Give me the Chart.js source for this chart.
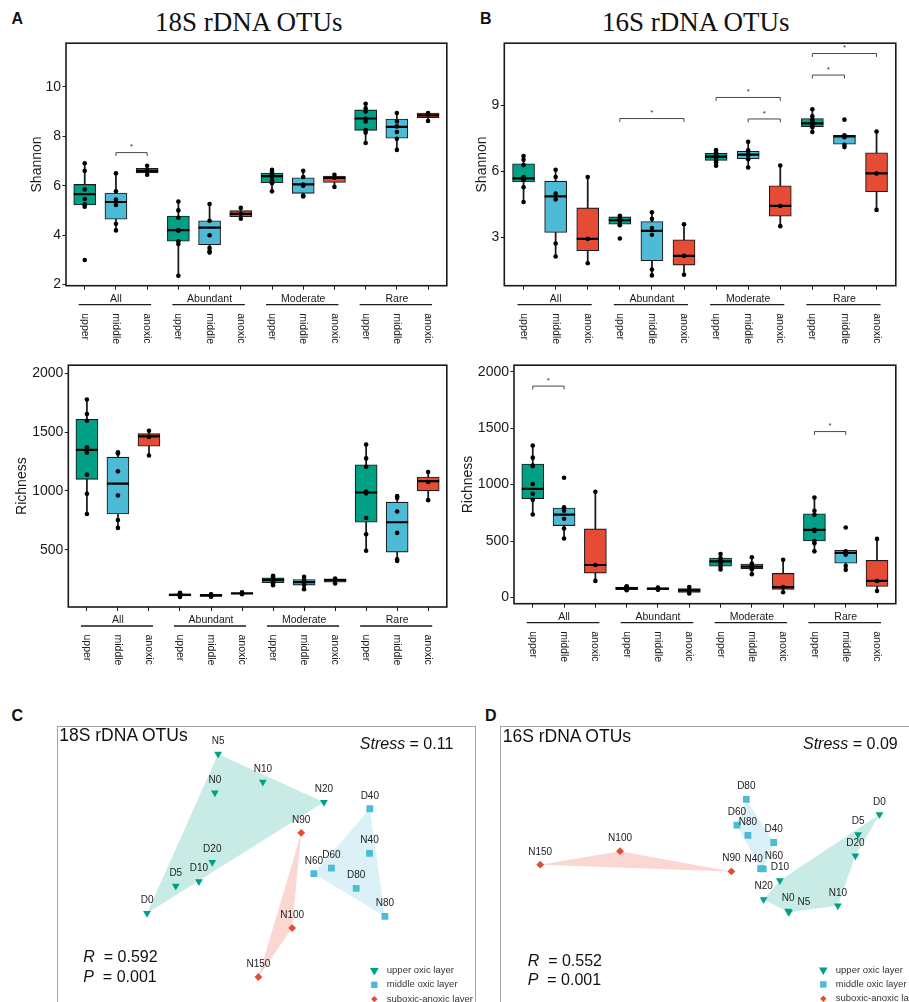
<!DOCTYPE html>
<html>
<head>
<meta charset="utf-8">
<title>Alpha diversity and NMDS of 18S / 16S rDNA OTUs</title>
<script src="https://cdn.jsdelivr.net/npm/chart.js@4.4.1/dist/chart.umd.min.js"></script>
<style>
  html, body { margin: 0; padding: 0; background: #fff; }
  body { position: relative; width: 909px; height: 1002px; overflow: hidden;
         font-family: "Liberation Sans", Arial, sans-serif; color: #111; }
  canvas, .t, .frame { position: absolute; }
  .t { white-space: nowrap; line-height: 1; }
  .letter { font-weight: bold; font-size: 16px; }
  .title { font-family: "Liberation Serif", "Times New Roman", serif; font-size: 27px; width: 300px; text-align: center; }
  .frame { border: 1.5px solid #a3a3a3; border-bottom: none; box-sizing: border-box; height: 300px; }
</style>
</head>
<body>

<div class="t letter" style="left:11.5px; top:10.5px;">A</div>
<div class="t letter" style="left:480px; top:10.5px;">B</div>
<div class="t title" style="left:98.8px; top:9px;">18S rDNA OTUs</div>
<div class="t title" style="left:545.7px; top:9px;">16S rDNA OTUs</div>

<canvas id="shannon18" width="460" height="320" style="left:0; top:30px;"></canvas>
<canvas id="shannon16" width="454" height="320" style="left:455px; top:30px;"></canvas>
<canvas id="richness18" width="460" height="318" style="left:0; top:352px;"></canvas>
<canvas id="richness16" width="454" height="318" style="left:455px; top:352px;"></canvas>

<div class="t letter" style="left:11.5px; top:708px;">C</div>
<div class="t letter" style="left:485px; top:707.5px;">D</div>
<div class="frame" style="left:56.5px; top:726px; width:419px;"></div>
<div class="frame" style="left:500px; top:726px; width:430px;"></div>
<canvas id="nmds18" width="418" height="275" style="left:57px; top:727px;"></canvas>
<canvas id="nmds16" width="408" height="275" style="left:501px; top:727px;"></canvas>

<div class="t" style="left:59.3px; top:727px; font-size:17.5px;">18S rDNA OTUs</div>
<div class="t" style="right:455.7px; top:735.8px; font-size:16px;"><i>Stress</i> = 0.11</div>
<div class="t" style="left:83.3px; top:949.2px; font-size:16px;"><i>R</i>&nbsp;&nbsp;= 0.592</div>
<div class="t" style="left:83.3px; top:968.5px; font-size:16px;"><i>P</i>&nbsp;&nbsp;= 0.001</div>
<div class="t" style="left:502.7px; top:727.7px; font-size:17.5px;">16S rDNA OTUs</div>
<div class="t" style="right:11.3px; top:735.8px; font-size:16px;"><i>Stress</i> = 0.09</div>
<div class="t" style="left:527.7px; top:952.5px; font-size:16px;"><i>R</i>&nbsp;&nbsp;= 0.552</div>
<div class="t" style="left:527.7px; top:971.5px; font-size:16px;"><i>P</i>&nbsp;&nbsp;= 0.001</div>

<script>
// categories
const groupNames = ['All', 'Abundant', 'Moderate', 'Rare'];
const layerNames = ['upper', 'middle', 'anoxic'];
const layerColors = ['#00A087', '#4DBBD5', '#E64B35'];
const legendLabels = ['upper oxic layer', 'middle oxic layer', 'suboxic-anoxic layer'];

// Shannon, 18S (box order: All upper/middle/anoxic, Abundant ..., Moderate ..., Rare ...)
const shannon18Low  = [5.15, 4.19, 6.44, 2.35, 3.29, 4.64, 5.77, 5.56, 5.95, 7.73, 7.45, 8.62];
const shannon18Q1   = [5.22, 4.64, 6.52, 3.75, 3.61, 4.75, 6.12, 5.69, 6.13, 8.24, 7.92, 8.75];
const shannon18Med  = [5.66, 5.34, 6.60, 4.20, 4.30, 4.86, 6.39, 6.05, 6.32, 8.72, 8.38, 8.85];
const shannon18Q3   = [6.05, 5.70, 6.70, 4.77, 4.58, 4.99, 6.51, 6.32, 6.39, 9.07, 8.70, 8.94];
const shannon18High = [6.91, 6.50, 6.82, 5.36, 5.26, 5.10, 6.64, 6.60, 6.44, 9.32, 8.94, 8.94];
const shannon18Points = [
  [6.91, 6.60, 5.85, 5.46, 5.25, 5.22, 5.15, 2.99], [6.50, 5.77, 5.44, 5.22, 4.46, 4.19], [6.81, 6.60, 6.44],
  [5.36, 5.00, 4.70, 4.20, 4.18, 3.75, 3.64, 2.35], [5.26, 4.58, 3.99, 3.48, 3.35, 3.29], [5.10, 4.86, 4.66],
  [6.64, 6.55, 6.45, 6.40, 6.36, 6.22, 6.10, 5.77], [6.60, 6.35, 6.05, 6.00, 5.60, 5.56], [6.44, 6.32, 5.95],
  [9.32, 9.13, 9.00, 8.72, 8.60, 8.25, 8.15, 7.73], [8.94, 8.60, 8.40, 8.17, 7.90, 7.45], [8.94, 8.88, 8.62]
];
const shannon18Ticks = [2, 4, 6, 8, 10];
const shannon18Sig = [[2, 3, 7.34]];

// Shannon, 16S
const shannon16Low  = [4.60, 2.12, 1.81, 3.54, 1.26, 1.29, 6.25, 6.17, 3.50, 7.79, 7.10, 4.24];
const shannon16Q1   = [5.51, 3.21, 2.38, 3.59, 1.93, 1.73, 6.49, 6.57, 3.95, 8.03, 7.23, 5.07];
const shannon16Med  = [5.68, 4.86, 2.92, 3.77, 3.29, 2.15, 6.67, 6.76, 4.42, 8.18, 7.59, 5.90];
const shannon16Q3   = [6.34, 5.55, 4.33, 3.92, 3.71, 2.88, 6.82, 6.91, 5.34, 8.40, 7.64, 6.84];
const shannon16High = [6.69, 6.07, 5.74, 3.97, 4.13, 3.59, 6.96, 7.34, 6.26, 8.82, 7.64, 7.81];
const shannon16Points = [
  [6.69, 6.52, 6.28, 5.74, 5.65, 5.60, 5.27, 4.60], [6.07, 5.74, 4.98, 4.72, 2.71, 2.12], [5.74, 2.92, 1.81],
  [3.97, 3.90, 3.85, 3.77, 3.75, 3.60, 3.54, 2.94], [4.13, 3.83, 3.42, 3.11, 1.53, 1.26], [3.59, 2.15, 1.29],
  [6.96, 6.85, 6.75, 6.70, 6.60, 6.50, 6.40, 6.25], [7.34, 6.95, 6.80, 6.72, 6.55, 6.17], [6.26, 4.42, 3.50],
  [8.82, 8.50, 8.35, 8.25, 8.15, 8.10, 8.00, 7.79], [8.35, 7.64, 7.60, 7.55, 7.20, 7.10], [7.81, 5.90, 4.24]
];
const shannon16Ticks = [3, 6, 9];
const shannon16Sig = [[4, 6, 8.40], [7, 9, 9.36], [8, 9, 8.38], [10, 11, 10.38], [10, 12, 11.36]];

// Richness, 18S
const richness18Low  = [804, 686, 1302, 98, 100, 122, 199, 165, 213, 491, 404, 922];
const richness18Q1   = [1099, 804, 1381, 108, 104, 124, 219, 199, 224, 734, 480, 1001];
const richness18Med  = [1350, 1063, 1465, 117, 112, 128, 244, 224, 241, 987, 734, 1083];
const richness18Q3   = [1609, 1288, 1488, 126, 120, 136, 261, 247, 252, 1223, 905, 1119];
const richness18High = [1778, 1330, 1513, 134, 122, 138, 278, 269, 255, 1395, 956, 1161];
const richness18Points = [
  [1778, 1654, 1598, 1372, 1325, 1139, 976, 804], [1330, 1318, 1167, 961, 753, 686], [1513, 1460, 1302],
  [134, 128, 124, 119, 116, 111, 106, 98], [122, 118, 114, 110, 105, 100], [138, 128, 122],
  [278, 270, 258, 247, 242, 232, 215, 199], [269, 247, 232, 220, 200, 165], [255, 242, 213],
  [1395, 1277, 1206, 995, 980, 770, 632, 491], [956, 940, 826, 644, 418, 404], [1161, 1077, 922]
];
const richness18Ticks = [500, 1000, 1500, 2000];
const richness18Sig = [];

// Richness, 16S
const richness16Low  = [735, 522, 147, 63, 66, 35, 248, 207, 46, 409, 245, 58];
const richness16Q1   = [876, 637, 216, 69, 69, 46, 277, 254, 72, 501, 303, 98];
const richness16Med  = [963, 735, 288, 81, 78, 63, 320, 274, 92, 599, 395, 147];
const richness16Q3   = [1182, 793, 608, 92, 86, 78, 349, 297, 213, 741, 418, 329];
const richness16High = [1346, 800, 937, 101, 90, 92, 389, 357, 334, 885, 418, 519];
const richness16Points = [
  [1346, 1239, 1170, 1164, 1006, 919, 865, 735], [1061, 800, 769, 697, 611, 522], [937, 288, 147],
  [100, 95, 90, 85, 80, 78, 70, 65], [88, 84, 80, 77, 72, 68], [92, 63, 35],
  [385, 350, 330, 320, 310, 290, 270, 248], [357, 300, 280, 270, 250, 207], [334, 92, 46],
  [885, 769, 732, 599, 590, 501, 480, 409], [620, 410, 395, 380, 280, 245], [519, 147, 58]
];
const richness16Ticks = [0, 500, 1000, 1500, 2000];
const richness16Sig = [[1, 2, 1873], [10, 11, 1470]];

// NMDS sample names (same in both panels)
const nmdsUpperNames  = ['N0', 'N5', 'N10', 'N20', 'D0', 'D5', 'D10', 'D20'];
const nmdsMiddleNames = ['D40', 'D60', 'D80', 'N40', 'N60', 'N80'];
const nmdsAnoxicNames = ['N90', 'N100', 'N150'];

// NMDS, 18S
const nmds18UpperX  = [-0.342, -0.320, -0.015, 0.402, -0.805, -0.609, -0.451, -0.360];
const nmds18UpperY  = [0.465, 0.733, 0.540, 0.400, -0.367, -0.178, -0.147, -0.015];
const nmds18MiddleX = [0.715, 0.453, 0.622, 0.713, 0.333, 0.818];
const nmds18MiddleY = [0.355, -0.055, -0.195, 0.047, -0.093, -0.389];
const nmds18AnoxicX = [0.247, 0.185, -0.045];
const nmds18AnoxicY = [0.189, -0.469, -0.807];
const hull18Upper  = ['N5', 'N20', 'D0'];
const hull18Middle = ['D40', 'N80', 'N60'];
const hull18Anoxic = ['N90', 'N100', 'N150'];

// NMDS, 16S
const nmds16UpperX  = [0.467, 0.473, 0.807, 0.300, 1.091, 0.945, 0.411, 0.927];
const nmds16UpperY  = [-0.351, -0.360, -0.315, -0.271, 0.315, 0.178, -0.140, 0.031];
const nmds16MiddleX = [0.369, 0.118, 0.182, 0.280, 0.298, 0.193];
const nmds16MiddleY = [0.122, 0.242, 0.420, -0.058, -0.060, 0.171];
const nmds16AnoxicX = [0.080, -0.680, -1.225];
const nmds16AnoxicY = [-0.078, 0.062, -0.031];
const hull16Upper  = ['D0', 'D20', 'N10', 'N5', 'N20', 'D10'];
const hull16Middle = ['D80', 'D40', 'N60', 'N40', 'D60'];
const hull16Anoxic = ['N150', 'N100', 'N90'];

// ---- drawing ----
const INK = '#1a1a1a';
const FONT = '"Liberation Sans", Arial, sans-serif';
Chart.defaults.font.family = FONT;
Chart.defaults.color = INK;

const positions = [];
groupNames.forEach((g, gi) => layerNames.forEach((l, li) => positions.push(gi * layerNames.length + li + 1)));

function boxDecor(brackets) {
  return {
    id: 'boxDecor',
    afterDraw(chart) {
      const { ctx, chartArea: a } = chart;
      const x = chart.scales.x, y = chart.scales.y;
      ctx.save();
      // significance brackets
      ctx.strokeStyle = '#333'; ctx.fillStyle = '#333'; ctx.lineWidth = 0.9;
      ctx.font = '8px ' + FONT;
      ctx.textAlign = 'center'; ctx.textBaseline = 'middle';
      brackets.forEach(([from, to, v]) => {
        const x1 = x.getPixelForValue(from), x2 = x.getPixelForValue(to), yy = y.getPixelForValue(v);
        ctx.beginPath();
        ctx.moveTo(x1, yy + 3.4); ctx.lineTo(x1, yy); ctx.lineTo(x2, yy); ctx.lineTo(x2, yy + 3.4);
        ctx.stroke();
        ctx.fillText('*', (x1 + x2) / 2, yy - 5.5);
      });
      // panel border
      ctx.strokeStyle = INK; ctx.lineWidth = 1.6;
      ctx.strokeRect(a.left, a.top, a.right - a.left, a.bottom - a.top);
      // group names, underline and rotated layer names
      ctx.fillStyle = INK; ctx.lineWidth = 1.3;
      ctx.font = '10.5px ' + FONT;
      groupNames.forEach((g, gi) => {
        const first = x.getPixelForValue(gi * 3 + 1), last = x.getPixelForValue(gi * 3 + 3);
        ctx.textAlign = 'center'; ctx.textBaseline = 'middle';
        ctx.fillText(g, (first + last) / 2, a.bottom + 13.5);
        ctx.beginPath(); ctx.moveTo(first - 6, a.bottom + 19); ctx.lineTo(last + 4, a.bottom + 19); ctx.stroke();
        layerNames.forEach((l, li) => {
          ctx.save();
          ctx.translate(x.getPixelForValue(gi * 3 + li + 1), a.bottom + 27.5);
          ctx.rotate(Math.PI / 2);
          ctx.textAlign = 'left';
          ctx.fillText(l, 0, 0);
          ctx.restore();
        });
      });
      ctx.restore();
    }
  };
}

function boxPanel(id, s) {
  const whiskers = positions.map((p, i) => ({ x: p, y: [s.low[i], s.high[i]] }));
  const boxes = positions.map((p, i) => ({ x: p, y: [s.q1[i], s.q3[i]] }));
  const medians = positions.map((p, i) => ({ x: p, y: s.med[i] }));
  const dots = [];
  s.points.forEach((vals, i) => vals.forEach(v => dots.push({ x: positions[i], y: v })));

  return new Chart(document.getElementById(id), {
    type: 'scatter',
    data: {
      datasets: [
        { type: 'bar', data: whiskers, backgroundColor: INK, barThickness: 1.1, grouped: false, order: 4 },
        { type: 'bar', data: boxes, backgroundColor: positions.map((p, i) => layerColors[i % 3]),
          borderColor: INK, borderWidth: 1.1, borderSkipped: false, barThickness: 22, grouped: false, order: 3 },
        { data: medians, pointStyle: 'line', pointRadius: 11, pointBorderColor: '#000', pointBorderWidth: 2.2, order: 2 },
        { data: dots, pointRadius: 2.3, pointBackgroundColor: '#000', pointBorderWidth: 0, order: 1 }
      ]
    },
    options: {
      responsive: false, animation: false, events: [],
      layout: { padding: { top: s.padTop, right: s.padRight, left: 0, bottom: 0 } },
      plugins: { legend: { display: false }, tooltip: { enabled: false } },
      scales: {
        x: {
          type: 'linear', min: 0.4, max: 12.6, offset: false,
          grid: { offset: false, drawOnChartArea: false, tickLength: 4, color: INK, lineWidth: 1 },
          border: { display: false },
          ticks: { display: false },
          afterBuildTicks: sc => { sc.ticks = positions.map(v => ({ value: v })); },
          afterFit: sc => { sc.height = s.xAxisHeight; sc.paddingLeft = 0; sc.paddingRight = 0; }
        },
        y: {
          type: 'linear', min: s.min, max: s.max,
          grid: { drawOnChartArea: false, tickLength: 3.5, color: INK, lineWidth: 1 },
          border: { display: false },
          ticks: { color: INK, font: { size: 14 }, padding: 1.5, callback: v => String(v) },
          afterBuildTicks: sc => { sc.ticks = s.ticks.map(v => ({ value: v })); },
          title: { display: true, text: s.title, color: INK, font: { size: 14 }, padding: { top: s.titlePad, bottom: 0 } },
          afterFit: sc => { sc.width = s.yAxisWidth; sc.paddingTop = 0; sc.paddingBottom = 0; }
        }
      }
    },
    plugins: [boxDecor(s.sig)]
  });
}

boxPanel('shannon18', {
  low: shannon18Low, q1: shannon18Q1, med: shannon18Med, q3: shannon18Q3, high: shannon18High,
  points: shannon18Points, ticks: shannon18Ticks, sig: shannon18Sig, title: 'Shannon',
  min: 1.95, max: 11.77, padTop: 11.7, padRight: 7.7, xAxisHeight: 64.3, yAxisWidth: 66, titlePad: 28.3
});
boxPanel('shannon16', {
  low: shannon16Low, q1: shannon16Q1, med: shannon16Med, q3: shannon16Q3, high: shannon16High,
  points: shannon16Points, ticks: shannon16Ticks, sig: shannon16Sig, title: 'Shannon',
  min: 0.79, max: 11.83, padTop: 12.3, padRight: 10.7, xAxisHeight: 64.3, yAxisWidth: 49.3, titlePad: 18.3
});
boxPanel('richness18', {
  low: richness18Low, q1: richness18Q1, med: richness18Med, q3: richness18Q3, high: richness18High,
  points: richness18Points, ticks: richness18Ticks, sig: richness18Sig, title: 'Richness',
  min: 13, max: 2070, padTop: 11.3, padRight: 7.7, xAxisHeight: 63, yAxisWidth: 68.3, titlePad: 13.3
});
boxPanel('richness16', {
  low: richness16Low, q1: richness16Q1, med: richness16Med, q3: richness16Q3, high: richness16High,
  points: richness16Points, ticks: richness16Ticks, sig: richness16Sig, title: 'Richness',
  min: -55, max: 2058, padTop: 7.3, padRight: 9.7, xAxisHeight: 66.3, yAxisWidth: 59, titlePad: 4.3
});

// ---- NMDS ----
const hullColors = ['rgba(0,160,135,0.21)', 'rgba(77,187,213,0.2)', 'rgba(230,75,53,0.22)'];
const markerStyle = ['triangle', 'rect', 'rectRot'];
const markerRotation = [180, 0, 0];
const markerRadius = [4.5, 4.8, 3.9];

function drawMarker(ctx, li, x, y, r) {
  ctx.beginPath();
  if (li === 0) {
    ctx.moveTo(x - r * 0.87, y - r * 0.5); ctx.lineTo(x + r * 0.87, y - r * 0.5); ctx.lineTo(x, y + r);
  } else if (li === 1) {
    ctx.rect(x - r, y - r, 2 * r, 2 * r);
  } else {
    ctx.moveTo(x, y - r); ctx.lineTo(x + r, y); ctx.lineTo(x, y + r); ctx.lineTo(x - r, y);
  }
  ctx.closePath();
  ctx.fill();
}

function nmdsPanel(id, layers, hulls, range, nudges, legendAt) {
  const lookup = {};
  layers.forEach(L => L.names.forEach((n, i) => { lookup[n] = { x: L.xs[i], y: L.ys[i] }; }));
  const datasets = [];
  hulls.forEach((h, li) => datasets.push({
    data: h.map(n => lookup[n]), showLine: true, fill: 'shape', backgroundColor: hullColors[li],
    borderColor: 'rgba(0,0,0,0)', borderWidth: 0, pointRadius: 0, order: 5
  }));
  layers.forEach((L, li) => datasets.push({
    data: L.names.map(n => lookup[n]), pointStyle: markerStyle[li], pointRotation: markerRotation[li],
    pointRadius: markerRadius[li], pointBackgroundColor: layerColors[li], pointBorderWidth: 0, order: 1
  }));

  const labelPlugin = {
    id: 'nmdsLabels',
    afterDatasetsDraw(chart) {
      const { ctx, chartArea: a } = chart;
      ctx.save();
      ctx.font = '10px ' + FONT; ctx.fillStyle = '#222';
      ctx.textAlign = 'center'; ctx.textBaseline = 'middle';
      layers.forEach((L, li) => {
        chart.getDatasetMeta(hulls.length + li).data.forEach((el, i) => {
          const nd = nudges[L.names[i]] || [0, 0];
          ctx.fillText(L.names[i], el.x + nd[0], el.y - 12.8 + nd[1]);
        });
      });
      // legend
      ctx.font = '9.5px ' + FONT; ctx.textAlign = 'left';
      legendLabels.forEach((lab, li) => {
        const yy = a.top + legendAt.y + li * 14.3;
        ctx.fillStyle = layerColors[li];
        drawMarker(ctx, li, a.left + legendAt.x, yy, li === 0 ? 5 : 3.2);
        ctx.fillStyle = '#333';
        ctx.fillText(lab, a.left + legendAt.x + 12.5, yy);
      });
      ctx.restore();
    }
  };

  return new Chart(document.getElementById(id), {
    type: 'scatter',
    data: { datasets },
    options: {
      responsive: false, animation: false, events: [],
      layout: { padding: 0 },
      plugins: { legend: { display: false }, tooltip: { enabled: false } },
      scales: {
        x: { type: 'linear', display: false, min: range[0], max: range[1] },
        y: { type: 'linear', display: false, min: range[2], max: range[3] }
      }
    },
    plugins: [labelPlugin]
  });
}

nmdsPanel('nmds18', [
  { names: nmdsUpperNames, xs: nmds18UpperX, ys: nmds18UpperY },
  { names: nmdsMiddleNames, xs: nmds18MiddleX, ys: nmds18MiddleY },
  { names: nmdsAnoxicNames, xs: nmds18AnoxicX, ys: nmds18AnoxicY }
], [hull18Upper, hull18Middle, hull18Anoxic], [-1.3867, 1.4, -0.9467, 0.8867], {}, { x: 312.5, y: 238.7 });

nmdsPanel('nmds16', [
  { names: nmdsUpperNames, xs: nmds16UpperX, ys: nmds16UpperY },
  { names: nmdsMiddleNames, xs: nmds16MiddleX, ys: nmds16MiddleY },
  { names: nmdsAnoxicNames, xs: nmds16AnoxicX, ys: nmds16AnoxicY }
], [hull16Upper, hull16Middle, hull16Anoxic], [-1.46, 1.26, -0.9467, 0.8867],
  { N5: [15, 3], N40: [-7, 3], N60: [10.6, 0] }, { x: 317.5, y: 238.3 });
</script>
</body>
</html>
